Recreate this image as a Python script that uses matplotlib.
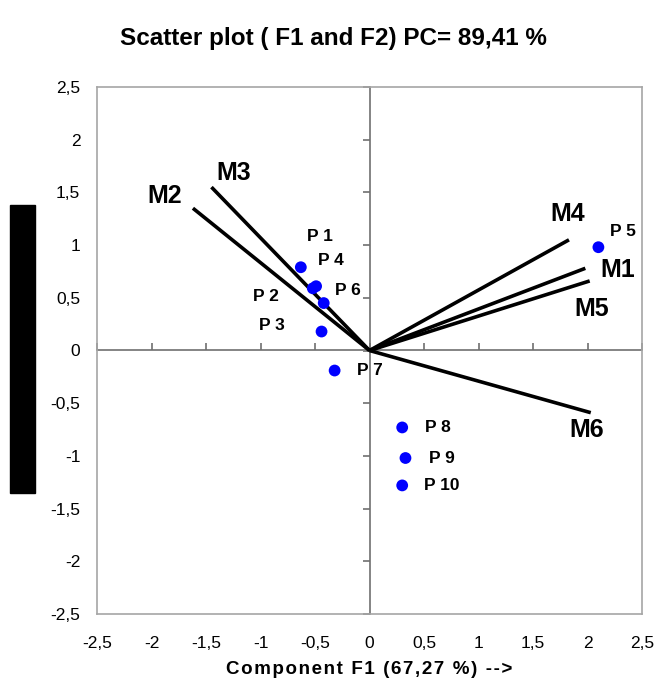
import numpy as np
import matplotlib
matplotlib.use("Agg")
import matplotlib.pyplot as plt
from matplotlib.patches import Rectangle
from matplotlib.ticker import FuncFormatter, MultipleLocator, NullFormatter

plt.rcParams['font.family'] = ['Liberation Sans', 'DejaVu Sans']

# Observations (individus) sur F1 / F2
p_names = ["P 1", "P 2", "P 3", "P 4", "P 5", "P 6", "P 7", "P 8", "P 9", "P 10"]
p_f1 = [-0.63, -0.52, -0.44, -0.49, 2.10, -0.42, -0.32, 0.30, 0.33, 0.30]
p_f2 = [0.79, 0.59, 0.18, 0.61, 0.98, 0.45, -0.19, -0.73, -1.02, -1.28]

# Variables (vecteurs depuis l'origine)
m_names = ["M1", "M2", "M3", "M4", "M5", "M6"]
m_f1 = [1.98, -1.62, -1.45, 1.83, 2.02, 2.03]
m_f2 = [0.78, 1.35, 1.55, 1.05, 0.66, -0.59]

# decalage des etiquettes (pixels)
p_off = [(19, 31), (-47, -8), (-50, 6), (15, 26), (25, 16), (24, 13),
         (35, 0), (36, 0), (36, 0), (40, 0)]
m_off = [(32, -2), (-28, 12), (22, 14), (-1, 26), (2, -28), (-4, -17)]

fig = plt.figure(figsize=(6.58, 6.80), dpi=100)
ax = fig.add_axes([97/658, 1 - 614/680, 545/658, 527/680])

ax.set_xlim(-2.5, 2.5)
ax.set_ylim(-2.5, 2.5)

for n, x, y, (dx, dy) in zip(m_names, m_f1, m_f2, m_off):
    ax.plot([0, x], [0, y], color="black", lw=2.6, solid_capstyle="butt", zorder=3)
    ax.annotate(n, (x, y), xytext=(dx*0.72, dy*0.72), textcoords="offset points",
                ha="center", va="center", fontsize=18, fontweight="bold")

ax.scatter(p_f1, p_f2, s=72, color="#0000ff", edgecolors="none", zorder=4)
for n, x, y, (dx, dy) in zip(p_names, p_f1, p_f2, p_off):
    ax.annotate(n, (x, y), xytext=(dx*0.72, dy*0.72), textcoords="offset points",
                ha="center", va="center", fontsize=12.5, fontweight="bold")

fmt = FuncFormatter(lambda v, pos: f"{v:g}".replace(".", ","))
for a in (ax.xaxis, ax.yaxis):
    a.set_major_locator(MultipleLocator(0.5))
    a.set_major_formatter(fmt)
ax.tick_params(length=0, labelsize=12.5)
ax.tick_params(axis="x", pad=16)
ax.tick_params(axis="y", pad=12)
for s in ax.spines.values():
    s.set_color("#a6a6a6")
    s.set_linewidth(1.2)

# axes passant par zero
sy = ax.secondary_yaxis(0.5)
sy.yaxis.set_major_locator(MultipleLocator(0.5))
sy.yaxis.set_major_formatter(NullFormatter())
sy.tick_params(direction="in", length=5, width=1.2, color="#707070")
for s in sy.spines.values():
    s.set_color("#707070")
    s.set_linewidth(1.2)
sx = ax.secondary_xaxis(0.5)
sx.xaxis.set_major_locator(MultipleLocator(0.5))
sx.xaxis.set_major_formatter(NullFormatter())
sx.tick_params(direction="out", length=5, width=1.2, color="#707070")
for s in sx.spines.values():
    s.set_color("#707070")
    s.set_linewidth(1.2)

fig.text(333/658, 1 - 38/680, "Scatter plot ( F1 and F2) PC= 89,41 %",
         ha="center", va="center", fontsize=17.5, fontweight="bold")
xlab = "\u200a".join("Component F1 (67,27 %) -->")
fig.text(369.5/658, 1 - 670/680, xlab,
         ha="center", va="center", fontsize=13.5, fontweight="bold")

fig.patches.append(Rectangle((10/658, 1 - 493/680), 25/658, 288/680,
                             transform=fig.transFigure, color="black"))

fig.savefig("out.png", dpi=100)
